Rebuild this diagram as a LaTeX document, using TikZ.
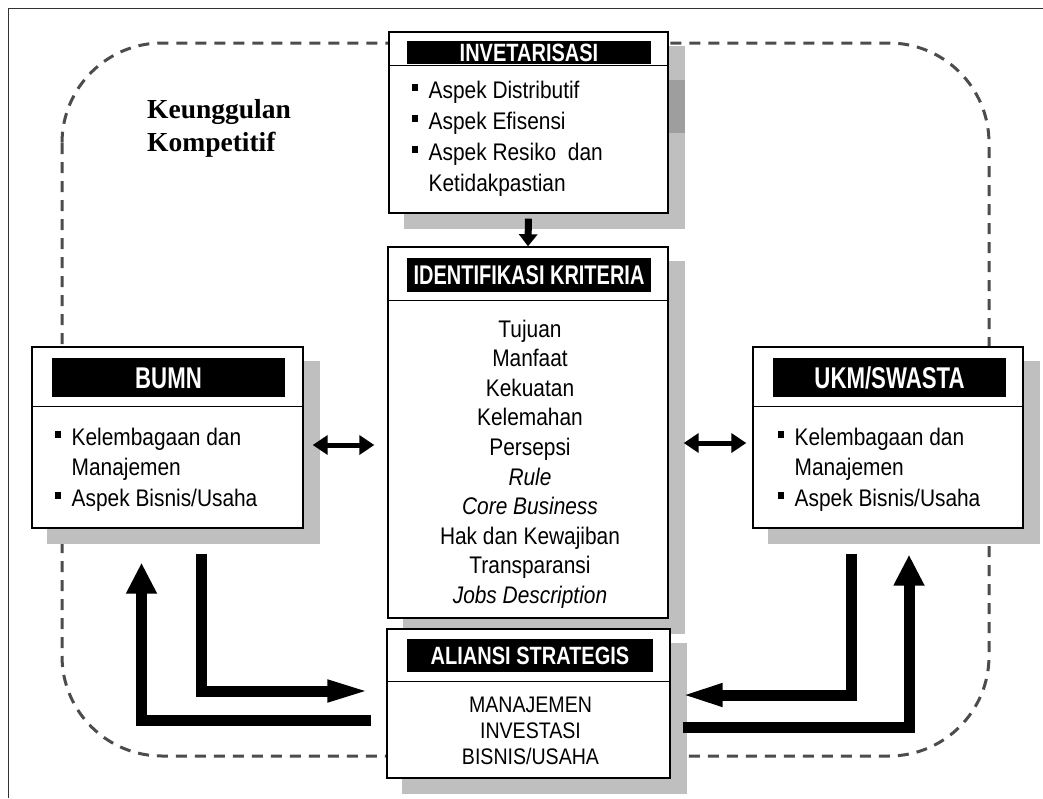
\documentclass[tikz,border=0pt]{standalone}
\usepackage{fontspec}
\setmainfont{Liberation Sans}
\newfontfamily\bodyfont[FakeStretch=0.87]{Liberation Sans}
\newfontfamily\hdrfont[FakeStretch=0.8]{Liberation Sans}
\newfontfamily\hdrnarrow[FakeStretch=0.74]{Liberation Sans}
\newfontfamily\serifbold{Liberation Serif}
\usetikzlibrary{arrows.meta,calc}
\pgfdeclarelayer{bg}
\pgfsetlayers{bg,main}
\newcommand\bulsq{\makebox[16.5pt][l]{\raisebox{7.5pt}{\rule{5.5pt}{6.5pt}}}}
\begin{document}
\begin{tikzpicture}[x=1pt,y=-1pt,
  box/.style={draw=black, line width=1.4pt, fill=white, inner sep=0pt},
  sep/.style={line width=1.4pt},
  bar/.style={fill=black, text=white, inner sep=0pt, font=\hdrfont\bfseries\fontsize{25}{25}\selectfont, text height=17.9pt, text depth=0pt},
  narrowbar/.style={bar, font=\hdrnarrow\bfseries\fontsize{27}{27}\selectfont, text height=19.3pt},
  bigbar/.style={bar, font=\hdrnarrow\bfseries\fontsize{30}{30}\selectfont, text height=21.5pt},
  itemtxt/.style={inner sep=0pt, anchor=west, font=\bodyfont\fontsize{24}{24}\selectfont, text height=17.2pt, text depth=0pt},
  ctrtxt/.style={inner sep=0pt, anchor=center, font=\bodyfont\fontsize{24}{24}\selectfont, text height=17.2pt, text depth=0pt},
  alitxt/.style={ctrtxt, font=\bodyfont\fontsize{22.5}{22.5}\selectfont, text height=16.1pt},
  ktxt/.style={inner sep=0pt, anchor=west, font=\serifbold\bfseries\fontsize{27.5}{27.5}\selectfont, text height=18.2pt, text depth=0pt},
  shade/.style={fill=black!25},
  fat/.style={line width=11pt, line join=miter},
  dbl/.style={line width=5pt, {Triangle[length=15pt,width=19pt]}-{Triangle[length=15pt,width=19pt]}},
]
\useasboundingbox (0,0) rectangle (1043,798);
% outer frame
\draw[line width=1.5pt, black!80] (8.5,798) -- (8.5,8.5) -- (1043,8.5);

% boxes
\node[box, minimum width=279pt, minimum height=181pt] (inv) at (528.5,122.5) {};
\node[box, minimum width=280pt, minimum height=371pt] (ident) at (528,432.5) {};
\node[box, minimum width=283pt, minimum height=149pt] (ali) at (528.5,703.5) {};
\node[box, minimum width=271pt, minimum height=181pt] (bumn) at (167.5,437.5) {};
\node[box, minimum width=270pt, minimum height=181pt] (ukm) at (888,437.5) {};

\begin{pgfonlayer}{bg}
  \draw[black!70, line width=3pt, dash pattern=on 11pt off 8pt, rounded corners=100pt] (62,43) rectangle (989,756);
  \foreach \n in {inv,ident,ali,bumn,ukm}
    \fill[shade] ($(\n.north west)+(16,15)$) rectangle ($(\n.south east)+(16,15)$);
  \fill[black!38] (669,80) rectangle (685,133);
\end{pgfonlayer}

% header bars
\node[bar, minimum width=244pt, minimum height=23pt] (invh) at (529,52.5) {INVETARISASI};
\node[narrowbar, minimum width=244pt, minimum height=34pt] (identh) at (529,275) {IDENTIFIKASI KRITERIA};
\node[bar, minimum width=246pt, minimum height=33pt] (alih) at (530,655.5) {ALIANSI STRATEGIS};
\node[bigbar, minimum width=233pt, minimum height=39pt] (bumnh) at (168.5,377.5) {BUMN};
\node[bigbar, minimum width=233pt, minimum height=39pt] (ukmh) at (889.5,377.5) {UKM/SWASTA};

% separators
\draw[sep] ($(inv.north west)+(0,34)$) -- ($(inv.north east)+(0,34)$);
\draw[sep] ($(ident.north west)+(0,54)$) -- ($(ident.north east)+(0,54)$);
\draw[sep] ($(ali.north west)+(0,53)$) -- ($(ali.north east)+(0,53)$);
\draw[sep] ($(bumn.north west)+(0,60)$) -- ($(bumn.north east)+(0,60)$);
\draw[sep] ($(ukm.north west)+(0,60)$) -- ($(ukm.north east)+(0,60)$);

% INVETARISASI items
\node[itemtxt] (inv1) at (412,89.5) {\bulsq Aspek Distributif};
\node[itemtxt] (inv2) at (412,120.5) {\bulsq Aspek Efisensi};
\node[itemtxt] (inv3) at (412,151.5) {\bulsq Aspek Resiko\ \ dan};
\node[itemtxt] (inv4) at (428.5,182.5) {Ketidakpastian};

% IDENTIFIKASI items
\foreach \t [count=\i from 0] in {Tujuan, Manfaat, Kekuatan, Kelemahan, Persepsi, \textit{Rule}, \textit{Core Business}, Hak dan Kewajiban, Transparansi, \textit{Jobs Description}}
  \node[ctrtxt] (crit\i) at (530, 328.5+29.6*\i) {\t};

% ALIANSI items
\node[alitxt] (ali1) at (530.5,704) {MANAJEMEN};
\node[alitxt] (ali2) at (530.5,730) {INVESTASI};
\node[alitxt] (ali3) at (530.5,756) {BISNIS/USAHA};

% BUMN items
\node[itemtxt] (bumn1) at (55,436.5) {\bulsq Kelembagaan dan};
\node[itemtxt] (bumn2) at (71.5,466.5) {Manajemen};
\node[itemtxt] (bumn3) at (55,497.5) {\bulsq Aspek Bisnis/Usaha};

% UKM items
\node[itemtxt] (ukm1) at (778,436.5) {\bulsq Kelembagaan dan};
\node[itemtxt] (ukm2) at (794.5,466.5) {Manajemen};
\node[itemtxt] (ukm3) at (778,497.5) {\bulsq Aspek Bisnis/Usaha};

% Keunggulan Kompetitif
\node[ktxt] (ku1) at (147,109) {Keunggulan};
\node[ktxt] (ku2) at (147,142.5) {Kompetitif};

% arrows
\draw[line width=7pt, -{Triangle[length=12pt,width=18pt]}, shorten <=5pt] (inv.south) -- (ident.north);

\coordinate (ly) at (0,445);
\coordinate (ry) at (0,443);
\draw[dbl, shorten <=9pt, shorten >=13pt] (bumn.east |- ly) -- (ident.west |- ly);
\draw[dbl, shorten <=15pt, shorten >=6pt] (ident.east |- ry) -- (ukm.west |- ry);

\coordinate (ax) at (201.5,0);
\coordinate (ay) at (0,691);
\coordinate (bx) at (141.5,0);
\coordinate (by) at (0,720.5);
\coordinate (cx) at (851,0);
\coordinate (cy) at (0,695);
\coordinate (dx) at (909,0);
\coordinate (dy) at (0,727);

\draw[fat, -{Triangle[length=47pt,width=19pt]}, shorten <=25pt, shorten >=12pt]
  (bumn.south -| ax) |- (ali.west |- ay);
\draw[fat, -{Triangle[length=31pt,width=29pt]}, shorten <=15pt, shorten >=34pt]
  (ali.west |- by) -| (bumn.south -| bx);
\draw[fat, -{Triangle[length=45pt,width=20pt]}, shorten <=25pt, shorten >=7pt]
  (ukm.south -| cx) |- (ali.east |- cy);
\draw[fat, -{Triangle[length=31pt,width=29pt]}, shorten <=12pt, shorten >=26pt]
  (ali.east |- dy) -| (ukm.south -| dx);
\end{tikzpicture}
\end{document}
